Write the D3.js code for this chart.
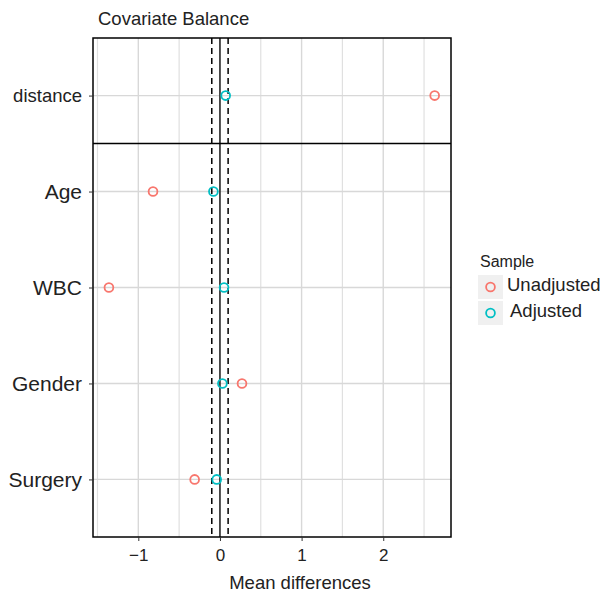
<!DOCTYPE html>
<html>
<head>
<meta charset="utf-8">
<script src="https://cdn.jsdelivr.net/npm/d3@7"></script>
<style>
  body { margin: 0; background: #fff; }
  svg { font-family: "Liberation Sans", Arial, sans-serif; }
</style>
</head>
<body>
<div id="chart"></div>
<script>
// covariates, bottom to top
const covariates = ['Surgery', 'Gender', 'WBC', 'Age', 'distance'];
const unadjusted = [-0.31, 0.27, -1.36, -0.82, 2.63];
const adjusted = [-0.04, 0.03, 0.05, -0.08, 0.07];
const xTicks = [-1, 0, 1, 2];
const xMinor = [-1.5, -0.5, 0.5, 1.5, 2.5];
const threshold = 0.1;
const sampleNames = ['Unadjusted', 'Adjusted'];
const sampleColors = ['#F8766D', '#00BFC4'];

const width = 603, height = 594;
const panel = { left: 93, right: 451, top: 38, bottom: 537 };

const svg = d3.select('#chart').append('svg')
  .attr('width', width)
  .attr('height', height);

const x = d3.scaleLinear()
  .domain([-1.555, 2.83])
  .range([panel.left, panel.right]);

const y = d3.scaleLinear()
  .domain([0.4, covariates.length + 0.6])
  .range([panel.bottom, panel.top]);

const g = svg.append('g');

// grid
g.selectAll('.vminor').data(xMinor).enter().append('line')
  .attr('x1', d => x(d)).attr('x2', d => x(d))
  .attr('y1', panel.top).attr('y2', panel.bottom)
  .attr('stroke', '#e0e0e0').attr('stroke-width', 1.2);
g.selectAll('.vmajor').data(xTicks).enter().append('line')
  .attr('x1', d => x(d)).attr('x2', d => x(d))
  .attr('y1', panel.top).attr('y2', panel.bottom)
  .attr('stroke', '#d8d8d8').attr('stroke-width', 1.4);
g.selectAll('.hmajor').data(covariates).enter().append('line')
  .attr('x1', panel.left).attr('x2', panel.right)
  .attr('y1', (d, i) => y(i + 1)).attr('y2', (d, i) => y(i + 1))
  .attr('stroke', '#d8d8d8').attr('stroke-width', 1.4);

// reference lines
g.append('line')
  .attr('x1', x(0)).attr('x2', x(0))
  .attr('y1', panel.top).attr('y2', panel.bottom)
  .attr('stroke', '#000').attr('stroke-width', 1.3);
[-threshold, threshold].forEach(t => {
  g.append('line')
    .attr('x1', x(t)).attr('x2', x(t))
    .attr('y1', panel.top).attr('y2', panel.bottom)
    .attr('stroke', '#000').attr('stroke-width', 1.5)
    .attr('stroke-dasharray', '6,4');
});

// separator between distance and covariates
g.append('line')
  .attr('x1', panel.left).attr('x2', panel.right)
  .attr('y1', y(covariates.length - 0.5)).attr('y2', y(covariates.length - 0.5))
  .attr('stroke', '#000').attr('stroke-width', 1.5);

// points
[unadjusted, adjusted].forEach((vals, s) => {
  g.selectAll('.pt' + s).data(vals).enter().append('circle')
    .attr('cx', d => x(d))
    .attr('cy', (d, i) => y(i + 1))
    .attr('r', 4.4)
    .attr('fill', 'none')
    .attr('stroke', sampleColors[s])
    .attr('stroke-width', 1.8);
});

// panel border
g.append('rect')
  .attr('x', panel.left).attr('y', panel.top)
  .attr('width', panel.right - panel.left)
  .attr('height', panel.bottom - panel.top)
  .attr('fill', 'none').attr('stroke', '#000').attr('stroke-width', 1.5);

// x axis
const xAxis = svg.append('g')
  .attr('transform', `translate(0,${panel.bottom})`)
  .call(d3.axisBottom(x).tickValues(xTicks).tickSize(4).tickFormat(d => d < 0 ? '\u2212' + Math.abs(d) : d));
xAxis.select('.domain').remove();
xAxis.selectAll('.tick line').attr('stroke', '#333').attr('stroke-width', 1);
xAxis.selectAll('.tick text').attr('font-size', 17).attr('fill', '#222').attr('y', 8).attr('dy', '0.95em');

// y axis
const yAxis = svg.append('g')
  .attr('transform', `translate(${panel.left},0)`)
  .call(d3.axisLeft(y).tickValues(d3.range(1, covariates.length + 1)).tickSize(4)
    .tickFormat(d => covariates[d - 1]));
yAxis.select('.domain').remove();
yAxis.selectAll('.tick line').attr('stroke', '#333').attr('stroke-width', 1);
yAxis.selectAll('.tick text')
  .attr('font-size', d => covariates[d - 1] === 'distance' ? 18.5 : 21)
  .attr('fill', '#222')
  .attr('x', -11);

// titles
svg.append('text')
  .attr('x', 98).attr('y', 25)
  .attr('font-size', 18.5).attr('fill', '#222')
  .text('Covariate Balance');
svg.append('text')
  .attr('x', (panel.left + panel.right) / 2 + 28).attr('y', 589)
  .attr('text-anchor', 'middle')
  .attr('font-size', 18.5).attr('fill', '#222')
  .text('Mean differences');

// legend
const legend = svg.append('g').attr('transform', 'translate(478,0)');
legend.append('text')
  .attr('x', 2).attr('y', 267)
  .attr('font-size', 16).attr('fill', '#222')
  .text('Sample');
sampleNames.forEach((name, i) => {
  const top = 275 + i * 26;
  legend.append('rect')
    .attr('x', 0).attr('y', top).attr('width', 25).attr('height', 24)
    .attr('fill', '#f0f0f0');
  legend.append('circle')
    .attr('cx', 12.5).attr('cy', top + 12)
    .attr('r', 4.4)
    .attr('fill', 'none')
    .attr('stroke', sampleColors[i])
    .attr('stroke-width', 1.8);
  legend.append('text')
    .attr('x', i === 0 ? 29 : 32).attr('y', top + 16)
    .attr('font-size', 18.5).attr('fill', '#222')
    .text(name);
});
</script>
</body>
</html>
